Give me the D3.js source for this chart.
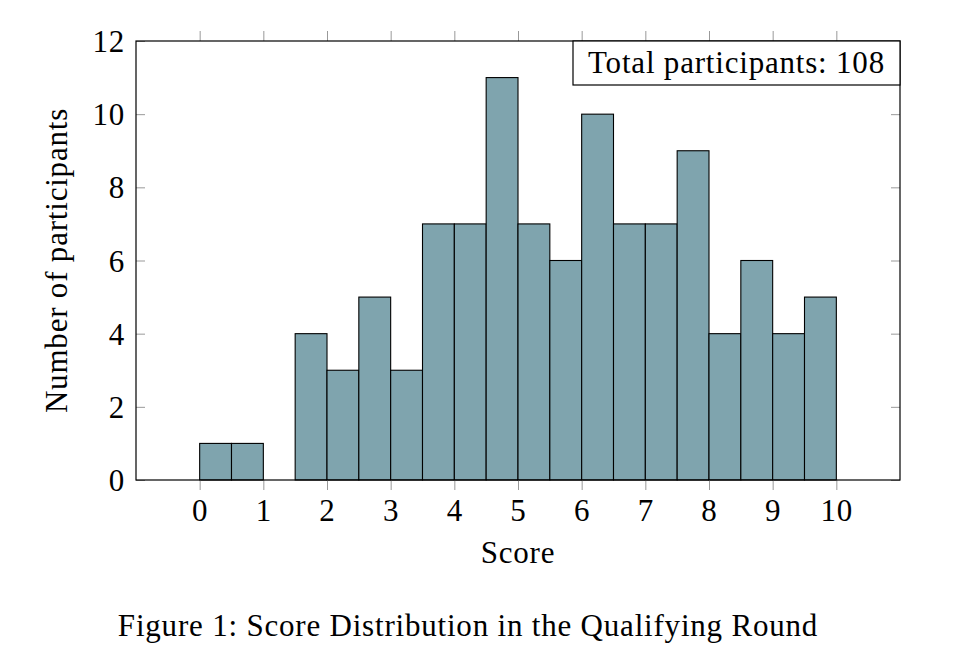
<!DOCTYPE html>
<html>
<head>
<meta charset="utf-8">
<script src="https://cdn.jsdelivr.net/npm/d3@7"></script>
<style>
  body { margin: 0; background: #fff; }
  svg text { font-family: "Liberation Serif", "DejaVu Serif", serif; fill: #000; letter-spacing: 0.8px; }
</style>
</head>
<body>
<div id="chart"></div>
<script>
// bin starts (width 0.5) and counts
const binStarts = [0, 0.5, 1, 1.5, 2, 2.5, 3, 3.5, 4, 4.5, 5, 5.5, 6, 6.5, 7, 7.5, 8, 8.5, 9, 9.5];
const counts = [1, 1, 0, 4, 3, 5, 3, 7, 7, 11, 7, 6, 10, 7, 7, 9, 4, 6, 4, 5];
const binWidth = 0.5;
const xTicks = [0, 1, 2, 3, 4, 5, 6, 7, 8, 9, 10];
const yTicks = [0, 2, 4, 6, 8, 10, 12];
const legendText = "Total participants: 108";
const xLabel = "Score";
const yLabel = "Number of participants";
const caption = "Figure 1: Score Distribution in the Qualifying Round";

const W = 960, H = 660;
const plot = { left: 136, right: 900, top: 41, bottom: 480 };
const fontSize = 31;

const svg = d3.select("#chart").append("svg")
    .attr("width", W)
    .attr("height", H);

const x = d3.scaleLinear().domain([-1, 11]).range([plot.left, plot.right]);
const y = d3.scaleLinear().domain([0, 12]).range([plot.bottom, plot.top]);

const bins = binStarts.map((s, i) => ({ x0: s, x1: s + binWidth, n: counts[i] }));

// bars
svg.append("g").selectAll("rect")
    .data(bins)
    .enter()
    .append("rect")
    .attr("x", d => x(d.x0))
    .attr("y", d => y(d.n))
    .attr("width", d => x(d.x1) - x(d.x0))
    .attr("height", d => y(0) - y(d.n))
    .attr("fill", "#7fa4ae")
    .attr("stroke", "#000")
    .attr("stroke-width", 1.1);

// x axis: bottom labels, ticks outside on bottom and top
const xAxis = svg.append("g")
    .attr("transform", `translate(0,${plot.bottom})`)
    .call(d3.axisBottom(x).tickValues(xTicks).tickSize(10).tickPadding(9).tickFormat(d3.format("d")));
xAxis.selectAll("text").style("font-size", fontSize + "px");

svg.append("g")
    .attr("transform", `translate(0,${plot.top})`)
    .call(d3.axisTop(x).tickValues(xTicks).tickSize(10).tickFormat(""));

// y axis: left labels, ticks inside on left and right
const yAxis = svg.append("g")
    .attr("transform", `translate(${plot.left},0)`)
    .call(d3.axisLeft(y).tickValues(yTicks).tickSize(-9).tickPadding(11).tickFormat(d3.format("d")));
yAxis.selectAll("text").style("font-size", fontSize + "px").attr("dy", "0.34em");

svg.append("g")
    .attr("transform", `translate(${plot.right},0)`)
    .call(d3.axisRight(y).tickValues(yTicks).tickSize(-9).tickFormat(""));

svg.selectAll(".domain").remove();
svg.selectAll(".tick line").attr("stroke", "#999").attr("stroke-width", 1);

// frame
svg.append("rect")
    .attr("x", plot.left)
    .attr("y", plot.top)
    .attr("width", plot.right - plot.left)
    .attr("height", plot.bottom - plot.top)
    .attr("fill", "none")
    .attr("stroke", "#000")
    .attr("stroke-width", 1.2);

// legend box in the upper right corner
const legendW = 327, legendH = 44;
svg.append("rect")
    .attr("x", plot.right - legendW)
    .attr("y", plot.top)
    .attr("width", legendW)
    .attr("height", legendH)
    .attr("fill", "#fff")
    .attr("stroke", "#000")
    .attr("stroke-width", 1.2);
svg.append("text")
    .attr("x", plot.right - legendW / 2)
    .attr("y", plot.top + 32)
    .attr("text-anchor", "middle")
    .style("font-size", fontSize + "px")
    .text(legendText);

// axis titles
svg.append("text")
    .attr("x", x(5))
    .attr("y", 563)
    .attr("text-anchor", "middle")
    .style("font-size", fontSize + "px")
    .text(xLabel);

svg.append("text")
    .attr("transform", `translate(67,${(plot.top + plot.bottom) / 2}) rotate(-90)`)
    .attr("text-anchor", "middle")
    .style("font-size", fontSize + "px")
    .text(yLabel);

// caption
svg.append("text")
    .attr("x", 468)
    .attr("y", 636)
    .attr("text-anchor", "middle")
    .style("font-size", fontSize + "px")
    .text(caption);
</script>
</body>
</html>
